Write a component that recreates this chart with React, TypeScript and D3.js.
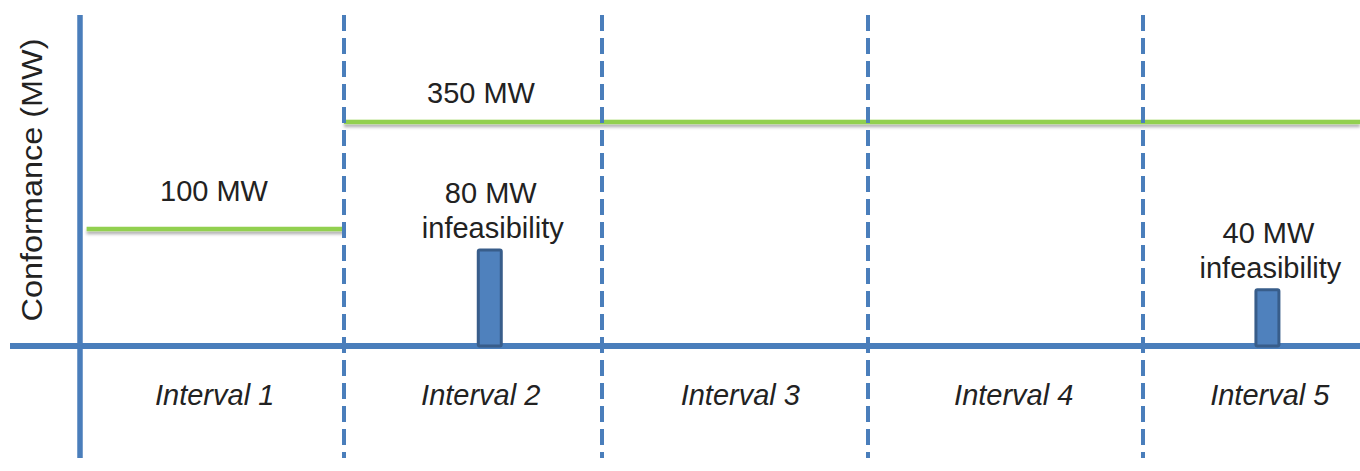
import React from "react";
import * as d3 from "d3";

// ---- data ----
const intervals = ["Interval 1", "Interval 2", "Interval 3", "Interval 4", "Interval 5"];
// where each interval label sits (interval units)
const intervalLabelAt = [0.51, 1.53, 2.52, 3.53, 4.475];
// boundaries between intervals (interval units)
const boundaries = [1, 2, 3, 4];
// conformance segments: [from, to] in interval units, plotted level (schematic units), label
const confFrom = [0.025, 1];
const confTo = [1, 5];
const confLevel = [100, 191.5];
const confLabel = ["100 MW", "350 MW"];
// infeasibility bars: position in interval units, plotted height (schematic units), labels
const barPos = [1.565, 4.466];
const barLevel = [82, 48];
const barLabel1 = ["80 MW", "40 MW"];
const barLabel2 = ["infeasibility", "infeasibility"];

const W = 1360;
const H = 471;
const FONT = "'Liberation Sans', Arial, Helvetica, sans-serif";
const BLUE = "#4A7EBB";
const GREEN = "#92D050";
const TXT = "#222222";

export default function App() {
  const x = d3
    .scaleLinear()
    .domain([0, 1, 2, 3, 4, 5])
    .range([80, 344, 602, 868, 1143, 1410]);
  const y = d3.scaleLinear().domain([0, 100]).range([346, 229]);

  const top = 15;
  const bottom = 458;
  const barW = 23;
  const gW = 4.5;

  return (
    <svg
      width={W}
      height={H}
      style={{ position: "absolute", left: 0, top: 0, display: "block", background: "#fff" }}
      fontFamily={FONT}
    >
      <defs>
        <filter id="sh" filterUnits="userSpaceOnUse" x={0} y={0} width={W} height={H}>
          <feDropShadow dx="0" dy="3" stdDeviation="1.5" floodColor="#000" floodOpacity="0.3" />
        </filter>
      </defs>

      {/* conformance lines */}
      {confLevel.map((lv, i) => {
        const x0 = x(confFrom[i]);
        const x1 = Math.min(x(confTo[i]), W);
        return (
          <rect
            key={"c" + i}
            x={x0}
            y={y(lv) - gW / 2}
            width={x1 - x0}
            height={gW}
            fill={GREEN}
            filter="url(#sh)"
          />
        );
      })}

      {/* dashed interval boundaries */}
      {boundaries.map((b, i) => (
        <line
          key={"b" + i}
          x1={x(b)}
          x2={x(b)}
          y1={top}
          y2={bottom}
          stroke={BLUE}
          strokeWidth={4}
          strokeDasharray="16 7"
        />
      ))}

      {/* axes */}
      <line x1={10} x2={W} y1={y(0)} y2={y(0)} stroke={BLUE} strokeWidth={6} />
      <line x1={80} x2={80} y1={top} y2={bottom} stroke={BLUE} strokeWidth={5.5} />

      {/* bars */}
      {barLevel.map((lv, i) => (
        <rect
          key={"r" + i}
          x={x(barPos[i]) - barW / 2}
          y={y(lv)}
          width={barW}
          height={y(0) - y(lv)}
          fill="#4F81BD"
          stroke="#385D8A"
          strokeWidth={3}
          rx={1.5}
        />
      ))}

      {/* conformance labels */}
      {confLabel.map((t, i) => (
        <text
          key={"cl" + i}
          x={i === 0 ? 214 : 481}
          y={y(confLevel[i]) - (i === 0 ? 28 : 18.5)}
          textAnchor="middle"
          fontSize={29}
          fill={TXT}
        >
          {t}
        </text>
      ))}

      {/* bar labels */}
      {barLabel1.map((t, i) => (
        <g key={"bl" + i}>
          <text
            x={x(barPos[i]) + 1}
            y={y(barLevel[i]) - 47}
            textAnchor="middle"
            fontSize={29}
            fill={TXT}
          >
            {t}
          </text>
          <text
            x={x(barPos[i]) + 3}
            y={y(barLevel[i]) - 12}
            textAnchor="middle"
            fontSize={29}
            fill={TXT}
          >
            {barLabel2[i]}
          </text>
        </g>
      ))}

      {/* interval labels */}
      {intervals.map((t, i) => (
        <text
          key={"i" + i}
          x={x(intervalLabelAt[i])}
          y={405}
          textAnchor="middle"
          fontSize={29}
          fontStyle="italic"
          fill={TXT}
        >
          {t}
        </text>
      ))}

      {/* y axis title */}
      <text
        transform={`translate(42,180) rotate(-90)`}
        textAnchor="middle"
        fontSize={29}
        fill={TXT}
        textLength={283}
        lengthAdjust="spacingAndGlyphs"
      >
        Conformance (MW)
      </text>
    </svg>
  );
}
